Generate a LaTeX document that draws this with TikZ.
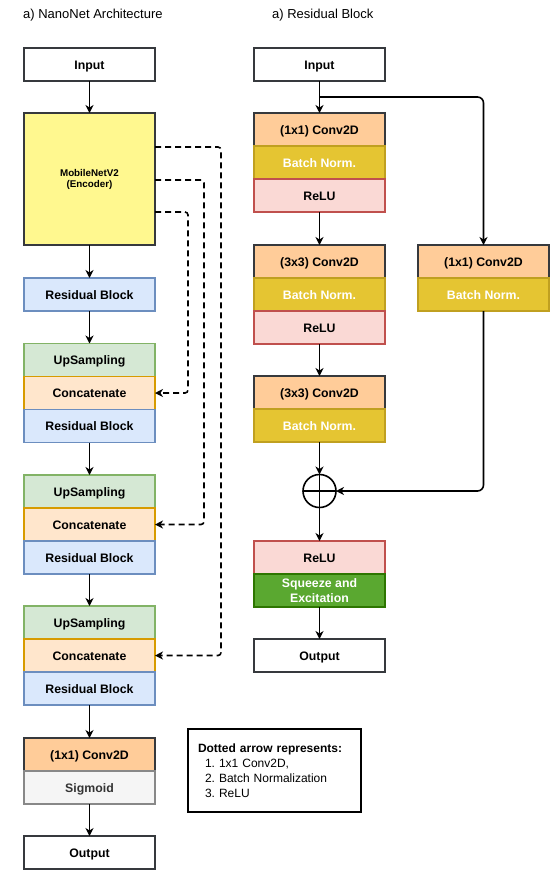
\documentclass[tikz,border=0pt]{standalone}
\usepackage{fontspec}
\setmainfont{Liberation Sans}
\usetikzlibrary{arrows.meta,calc}
\frenchspacing
\definecolor{cconv}{HTML}{FFCC99}
\definecolor{cdark}{HTML}{36393D}
\definecolor{cbn}{HTML}{E5C532}
\definecolor{cbnd}{HTML}{C0A020}
\definecolor{crelu}{HTML}{FAD9D5}
\definecolor{creld}{HTML}{C0504D}
\definecolor{cup}{HTML}{D5E8D4}
\definecolor{cupd}{HTML}{82B366}
\definecolor{ccat}{HTML}{FFE6CC}
\definecolor{ccatd}{HTML}{D79B00}
\definecolor{cres}{HTML}{DAE8FC}
\definecolor{cresd}{HTML}{6C8EBF}
\definecolor{csig}{HTML}{F5F5F5}
\definecolor{csigd}{HTML}{888888}
\definecolor{csigt}{HTML}{333333}
\definecolor{cse}{HTML}{5AA830}
\definecolor{csed}{HTML}{2D7600}
\definecolor{cmob}{HTML}{FFF88F}
\tikzset{
  blk/.style={draw, line width=1.7pt, minimum width=131pt, minimum height=33pt,
    inner sep=0pt, outer sep=0pt, font=\fontsize{12.3}{14}\selectfont\bfseries},
  one/.style={blk, text height=11pt, text depth=2pt},
  plainbox/.style={one, draw=cdark, fill=white},
  convbox/.style={one, draw=cdark, fill=cconv},
  bnbox/.style={one, draw=cbnd, fill=cbn, text=white},
  relubox/.style={one, draw=creld, fill=crelu},
  upbox/.style={one, draw=cupd, fill=cup},
  catbox/.style={one, draw=ccatd, fill=ccat},
  resbox/.style={one, draw=cresd, fill=cres},
  sigbox/.style={one, draw=csigd, fill=csig, text=csigt},
  sebox/.style={blk, draw=csed, fill=cse, text=white, align=center},
  arr/.style={line width=1.6pt, -{Stealth[length=8pt,width=8pt,inset=2.5pt]}},
  dasharr/.style={arr, dash pattern=on 6pt off 4pt, rounded corners=3pt},
  ttl/.style={anchor=west, inner sep=0pt, font=\fontsize{13}{15}\selectfont},
}
\begin{document}
\begin{tikzpicture}[x=1pt,y=-1pt]
\useasboundingbox (0,0) rectangle (552,873);
% titles
\node[ttl] (t1) at (23,15) {a) NanoNet Architecture};
\node[ttl] (t2) at (272,15) {a) Residual Block};
% left column
\node[plainbox] (in) at (89.5,64.5) {Input};
\node[blk, draw=cdark, fill=cmob, minimum height=132pt, align=center,
  font=\fontsize{9.8}{11}\selectfont\bfseries] (mob) at (89.5,179) {MobileNetV2\\(Encoder)};
\node[resbox] (r0) at (89.5,294.5) {Residual Block};
\node[upbox] (u1) at (89.5,360) {UpSampling};
\node[catbox] (c1) at (89.5,393) {Concatenate};
\node[resbox] (r1) at (89.5,426) {Residual Block};
\node[upbox] (u2) at (89.5,491.5) {UpSampling};
\node[catbox] (c2) at (89.5,524.5) {Concatenate};
\node[resbox] (r2) at (89.5,557.5) {Residual Block};
\node[upbox] (u3) at (89.5,622.5) {UpSampling};
\node[catbox] (c3) at (89.5,655.5) {Concatenate};
\node[resbox] (r3) at (89.5,688.5) {Residual Block};
\node[convbox] (cv) at (89.5,754.5) {(1x1) Conv2D};
\node[sigbox] (sg) at (89.5,787.5) {Sigmoid};
\node[plainbox] (out) at (89.5,852.5) {Output};
\draw[arr] (in) -- (mob);
\draw[arr] (mob) -- (r0);
\draw[arr] (r0) -- (u1);
\draw[arr] (r1) -- (u2);
\draw[arr] (r2) -- (u3);
\draw[arr] (r3) -- (cv);
\draw[arr] (sg) -- (out);
% skip connections
\draw[dasharr] ([yshift=32pt]mob.east) -- ++(66,0) |- (c3.east);
\draw[dasharr] ([yshift=-1pt]mob.east) -- ++(49,0) |- (c2.east);
\draw[dasharr] ([yshift=-33pt]mob.east) -- ++(33,0) |- (c1.east);
% legend
\node[draw=black, line width=1.6pt, minimum width=173pt, minimum height=83pt,
  inner xsep=10pt, text width=153pt, align=left,
  font=\fontsize{12}{15}\selectfont] (leg) at (274.5,770.5)
  {\textbf{Dotted arrow represents:}\\
   \hspace*{7pt}1. 1x1 Conv2D,\\
   \hspace*{7pt}2. Batch Normalization\\
   \hspace*{7pt}3. ReLU};
% right column
\node[plainbox] (rin) at (319.5,64.5) {Input};
\node[convbox] (a1) at (319.5,129.5) {(1x1) Conv2D};
\node[bnbox] (b1) at (319.5,162.5) {Batch Norm.};
\node[relubox] (l1) at (319.5,195.5) {ReLU};
\node[convbox] (a2) at (319.5,261.5) {(3x3) Conv2D};
\node[bnbox] (b2) at (319.5,294.5) {Batch Norm.};
\node[relubox] (l2) at (319.5,327.5) {ReLU};
\node[convbox] (a3) at (319.5,392.5) {(3x3) Conv2D};
\node[bnbox] (b3) at (319.5,425.5) {Batch Norm.};
\node[convbox] (sa) at (483.5,261.5) {(1x1) Conv2D};
\node[bnbox] (sb) at (483.5,294.5) {Batch Norm.};
\node[draw, circle, line width=1.6pt, minimum size=33pt, inner sep=0pt, outer sep=0pt] (plus) at (319.5,491) {};
\draw[line width=1.6pt] (plus.north) -- (plus.south) (plus.west) -- (plus.east);
\node[relubox] (l4) at (319.5,557.5) {ReLU};
\node[sebox, font=\fontsize{12.3}{15}\selectfont\bfseries] (se) at (319.5,590.5) {Squeeze and\\Excitation};
\node[plainbox] (rout) at (319.5,655.5) {Output};
\draw[arr] (rin) -- (a1);
\draw[arr, rounded corners=6pt] ($(rin.south)+(0,16)$) -| (sa.north);
\draw[arr] (l1) -- (a2);
\draw[arr] (l2) -- (a3);
\draw[arr] (b3) -- (plus);
\draw[arr, rounded corners=6pt] (sb.south) |- (plus.east);
\draw[arr] (plus) -- (l4);
\draw[arr] (se) -- (rout);
\end{tikzpicture}
\end{document}
